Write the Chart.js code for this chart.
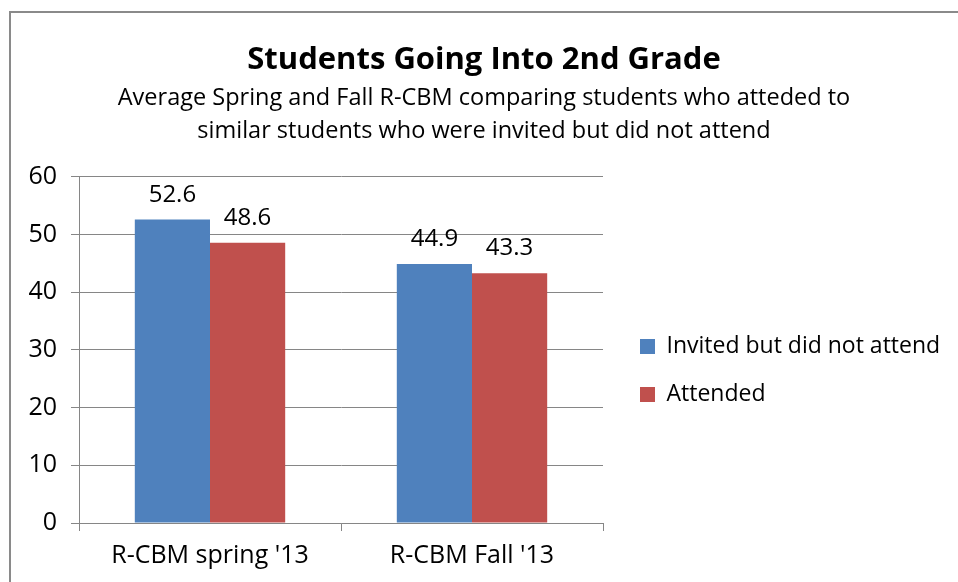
<!DOCTYPE html>
<html lang="en">
<head>
    <meta charset="UTF-8">
    <title>Students Going Into 2nd Grade</title>
    <script src="https://cdn.jsdelivr.net/npm/chart.js"></script>
    <style>
        body { margin: 0; background: #fff; }
        .frame { position: absolute; left: 9px; top: 11px; width: 1000px; height: 700px; border: 2px solid #8a8a8a; }
        .wrap { position: absolute; left: 0; top: 0; width: 958px; height: 582px; }
    </style>
</head>
<body>
    <div class="frame"></div>
    <div class="wrap"><canvas id="chart"></canvas></div>

    <script>
        // data
        let categories = ["R-CBM spring '13", "R-CBM Fall '13"];
        let invited = [52.6, 44.9];
        let attended = [48.6, 43.3];
        let seriesNames = ["Invited but did not attend", "Attended"];
        let yTicks = [0, 10, 20, 30, 40, 50, 60];

        let fontName = "Open Sans";

        // value labels over each bar
        let valueLabels = {
            id: "valueLabels",
            afterDatasetsDraw(chart) {
                let ctx = chart.ctx;
                ctx.save();
                ctx.font = "24px '" + fontName + "'";
                ctx.fillStyle = "#000";
                ctx.textAlign = "center";
                ctx.textBaseline = "alphabetic";
                chart.data.datasets.forEach((ds, i) => {
                    chart.getDatasetMeta(i).data.forEach((bar, j) => {
                        ctx.fillText(ds.data[j].toFixed(1), bar.x, bar.y - 18);
                    });
                });
                ctx.restore();
            }
        };

        // legend gets a fixed width so the plot ends where it did in the original
        let legendShift = {
            id: "legendShift",
            beforeLayout(chart) {
                let lg = chart.legend;
                if (lg && !lg._fixed) {
                    let fit = lg.fit.bind(lg);
                    lg.fit = function () { fit(); this.width = 355; };
                    lg._fixed = true;
                }
            },
            afterLayout(chart) {
                let lg = chart.legend;
                lg.left += 12; lg.right += 12;
                lg.top += 59; lg.bottom += 59;
            }
        };

        new Chart(document.getElementById("chart"), {
            type: "bar",
            data: {
                labels: categories,
                datasets: [
                    { label: seriesNames[0], data: invited, backgroundColor: "#4F81BD" },
                    { label: seriesNames[1], data: attended, backgroundColor: "#C0504D" }
                ]
            },
            options: {
                responsive: true,
                maintainAspectRatio: false,
                animation: false,
                categoryPercentage: 0.574,
                barPercentage: 1,
                layout: { padding: { top: 42, left: 10, right: 0, bottom: 1 } },
                plugins: {
                    title: {
                        display: true,
                        text: "Students Going Into 2nd Grade",
                        color: "#000",
                        font: { family: fontName, size: 31, weight: "bold" },
                        padding: { top: 0, bottom: 2 }
                    },
                    subtitle: {
                        display: true,
                        text: ["Average Spring and Fall R-CBM comparing students who atteded to",
                               "similar students who were invited but did not attend"],
                        color: "#000",
                        font: { family: fontName, size: 23.5, lineHeight: 1.42 },
                        padding: { top: 0, bottom: 29 }
                    },
                    legend: {
                        position: "right",
                        labels: {
                            color: "#000",
                            font: { family: fontName, size: 23 },
                            boxWidth: 15,
                            boxHeight: 15,
                            padding: 25
                        }
                    },
                    tooltip: { enabled: false }
                },
                scales: {
                    x: {
                        grid: { drawOnChartArea: false, drawTicks: true, tickLength: 8, color: "#868686" },
                        border: { color: "#868686" },
                        ticks: { color: "#000", font: { family: fontName, size: 25 }, padding: 10 }
                    },
                    y: {
                        min: 0,
                        max: 60,
                        afterBuildTicks: s => { s.ticks = yTicks.map(v => ({ value: v })); },
                        afterFit: s => { s.width = 69; },
                        grid: { color: "#868686", tickLength: 8 },
                        border: { color: "#868686" },
                        ticks: { color: "#000", font: { family: fontName, size: 25 }, padding: 14 }
                    }
                }
            },
            plugins: [valueLabels, legendShift]
        });
    </script>
</body>
</html>
